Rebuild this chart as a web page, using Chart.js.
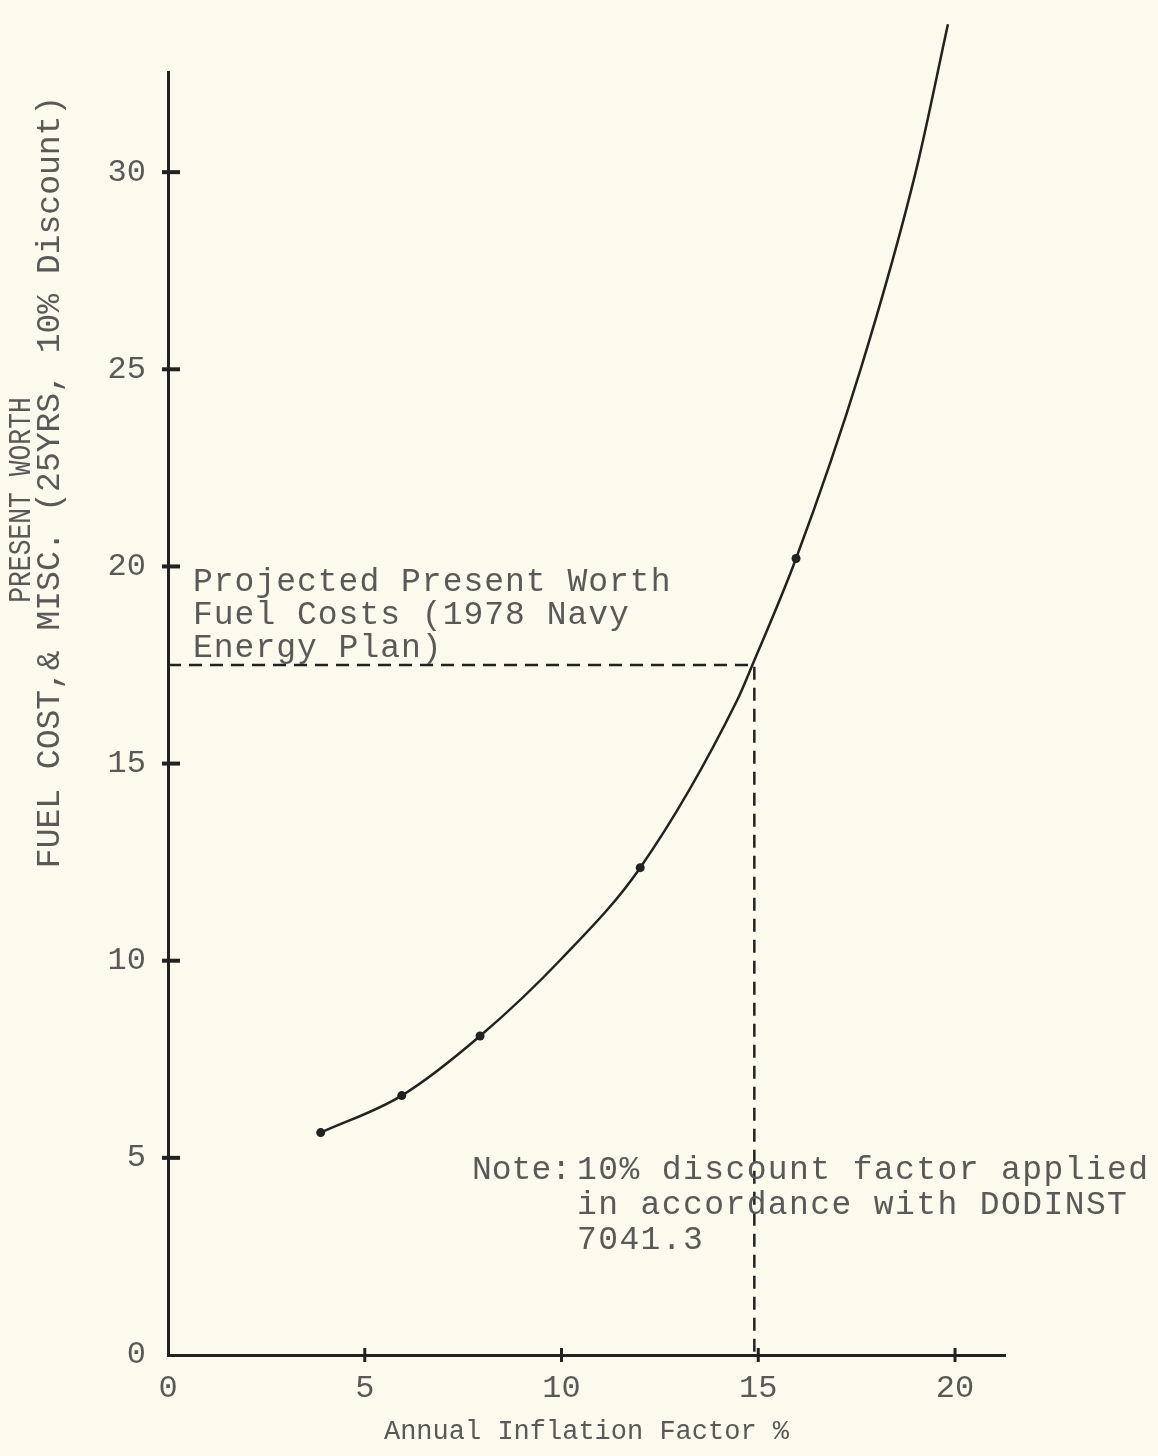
<!DOCTYPE html>
<html>
<head>
<meta charset="utf-8">
<script src="https://cdn.jsdelivr.net/npm/chart.js@4"></script>
<style>
    html, body { margin: 0; padding: 0; background: #fbfaec; }
    #chart { display: block; }
</style>
</head>
<body>
<canvas id="chart" width="1158" height="1456"></canvas>
<script>
// values
const curveX = [3.88, 5.94, 7.93, 10.0, 12.0, 14.46, 14.85, 15.96, 17.6, 19.0, 19.82];
const curveY = [5.64, 6.58, 8.09, 10.05, 12.36, 16.6, 17.5, 20.2, 25.0, 30.0, 33.75];
const dotX = [3.88, 5.94, 7.93, 12.0, 15.96, 19.87];
const dotY = [5.64, 6.58, 8.09, 12.36, 20.2, 34.0];
const targetX = [0, 14.9, 14.9];
const targetY = [17.5, 17.5, 0];
const xTicks = [0, 5, 10, 15, 20];
const yTicks = [0, 5, 10, 15, 20, 25, 30];

const yTitle = ["PRESENT WORTH", "FUEL COST,& MISC. (25YRS, 10% Discount)"];
const xTitle = "Annual Inflation Factor %";
const projText = ["Projected Present Worth", "Fuel Costs (1978 Navy", "Energy Plan)"];
const noteText = ["Note:", "10% discount factor applied", "in accordance with DODINST", "7041.3"];

const ink = "#222";
const textCol = "#595959";
const mono = "'Liberation Mono', 'DejaVu Sans Mono', monospace";

const toPts = (xs, ys) => xs.map((x, i) => ({ x: x, y: ys[i] }));

const annotations = {
    id: "annotations",
    afterDraw(chart) {
        const ctx = chart.ctx;
        const xs = chart.scales.x, ys = chart.scales.y;
        ctx.save();

        // tick marks crossing the axes
        ctx.strokeStyle = ink;
        ctx.lineWidth = 4;
        yTicks.slice(1).forEach(v => {
            const py = ys.getPixelForValue(v);
            ctx.beginPath();
            ctx.moveTo(xs.left - 6, py);
            ctx.lineTo(xs.left + 12, py);
            ctx.stroke();
        });
        ctx.lineWidth = 3;
        xTicks.slice(1).forEach(v => {
            const px = xs.getPixelForValue(v);
            ctx.beginPath();
            ctx.moveTo(px, ys.bottom - 7);
            ctx.lineTo(px, ys.bottom + 7);
            ctx.stroke();
        });

        ctx.fillStyle = textCol;

        // y axis title, two rotated lines
        ctx.textAlign = "center";
        ctx.textBaseline = "middle";
        ctx.font = "31px " + mono;
        ctx.save();
        ctx.translate(22, 500);
        ctx.rotate(-Math.PI / 2);
        ctx.scale(0.85, 1);
        ctx.fillText(yTitle[0], 0, 0);
        ctx.restore();
        ctx.font = "33px " + mono;
        ctx.save();
        ctx.translate(50, 482);
        ctx.rotate(-Math.PI / 2);
        ctx.fillText(yTitle[1], 0, 0);
        ctx.restore();

        // x axis title
        ctx.font = "27px " + mono;
        ctx.fillText(xTitle, (xs.left + xs.right) / 2, 1432);

        // label above the dashed line
        ctx.font = "33px " + mono;
        ctx.textAlign = "left";
        ctx.letterSpacing = "1px";
        projText.forEach((t, i) => ctx.fillText(t, 193, 582 + i * 33));

        // note
        ctx.letterSpacing = "0px";
        ctx.fillText(noteText[0], 472, 1170);
        ctx.letterSpacing = "1.4px";
        noteText.slice(1).forEach((t, i) => ctx.fillText(t, 577, 1170 + i * 35));

        ctx.restore();
    }
};

new Chart(document.getElementById("chart"), {
    type: "scatter",
    data: {
        datasets: [
            {
                data: toPts(curveX, curveY),
                showLine: true,
                cubicInterpolationMode: "monotone",
                borderColor: ink,
                borderWidth: 2.5,
                pointRadius: 0,
                clip: false
            },
            {
                data: toPts(dotX, dotY),
                showLine: false,
                pointRadius: 4.5,
                pointBackgroundColor: ink,
                pointBorderWidth: 0,
                clip: false
            },
            {
                data: toPts(targetX, targetY),
                showLine: true,
                tension: 0,
                borderColor: ink,
                borderWidth: 2.5,
                borderDash: [13, 8],
                pointRadius: 0,
                clip: false
            }
        ]
    },
    options: {
        responsive: false,
        animation: false,
        layout: { padding: { left: 0, top: 72, right: 153, bottom: 0 } },
        plugins: { legend: { display: false }, tooltip: { enabled: false } },
        scales: {
            x: {
                type: "linear",
                min: 0,
                max: 21.27,
                afterFit: s => { s.height = 101; },
                grid: { display: false },
                border: { color: ink, width: 3 },
                ticks: {
                    stepSize: 5,
                    includeBounds: false,
                    padding: 6,
                    color: textCol,
                    font: { family: mono, size: 32 }
                }
            },
            y: {
                type: "linear",
                min: 0,
                max: 32.54,
                afterFit: s => { s.width = 168; },
                grid: { display: false },
                border: { color: ink, width: 3 },
                ticks: {
                    stepSize: 5,
                    includeBounds: false,
                    padding: 14,
                    color: textCol,
                    font: { family: mono, size: 32 }
                }
            }
        }
    },
    plugins: [annotations]
});
</script>
</body>
</html>
